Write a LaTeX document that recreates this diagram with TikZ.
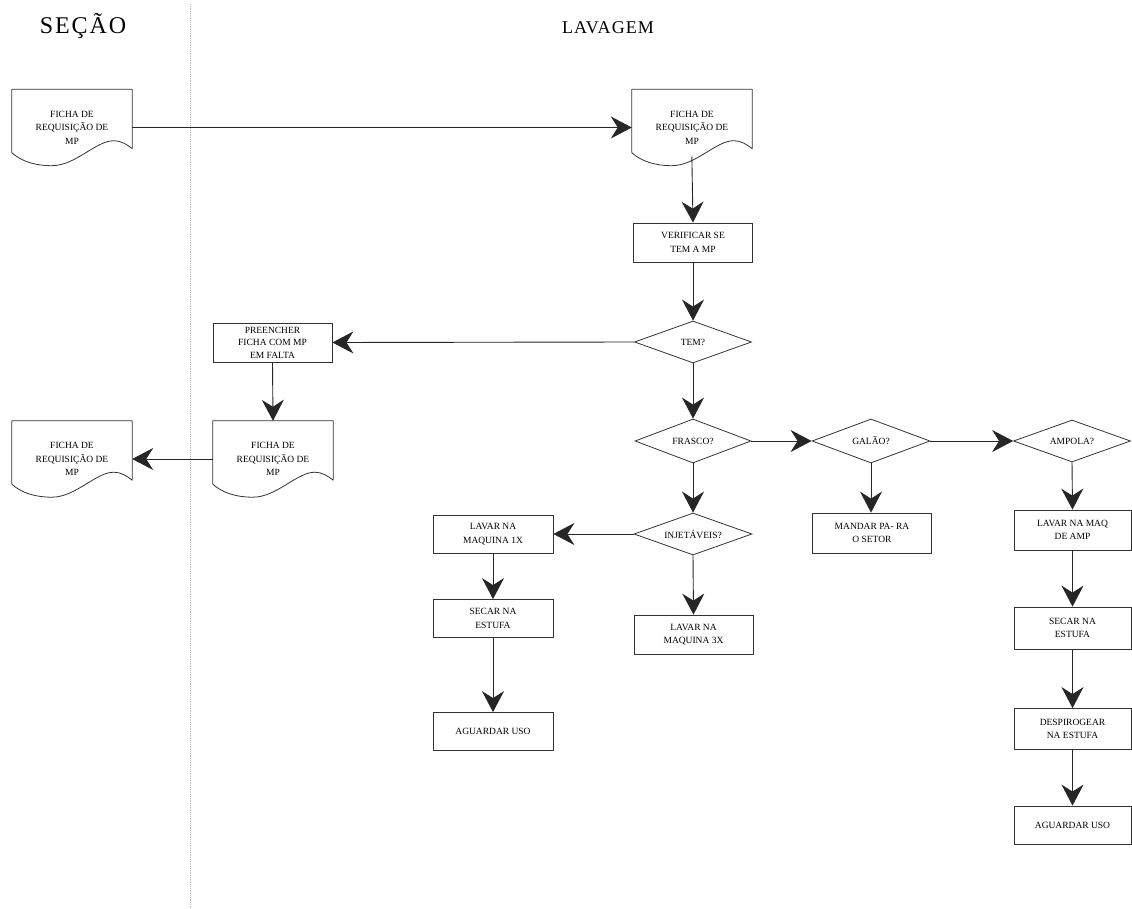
\documentclass[tikz,border=0pt]{standalone}
\usepackage{fontspec}
\setmainfont{Liberation Serif}
\newfontfamily\sectionfont[LetterSpace=8]{Liberation Serif}
\newfontfamily\laneheadfont[LetterSpace=6]{Liberation Serif}
\usetikzlibrary{shapes.geometric,arrows.meta,calc}

% outline of a flowchart "document" symbol around a named node
\newcommand\docoutline[1]{%
  \draw[docline] ($(#1.south west)+(0,-13)$) -- (#1.north west) -- (#1.north east)
    -- ($(#1.south east)+(0,-17)$)
    .. controls ($(#1.south east)+(-5,-21)$) and ($(#1.south east)+(-11,-25)$) .. ($(#1.south west)+(102,-25)$)
    .. controls ($(#1.south west)+(84,-25)$) and ($(#1.south west)+(64,0)$) .. ($(#1.south west)+(40,0)$)
    .. controls ($(#1.south west)+(24,0)$) and ($(#1.south west)+(10,-4)$) .. ($(#1.south west)+(0,-13)$);}

\begin{document}
\begin{tikzpicture}[x=1pt,y=-1pt,
  every node/.style={font=\fontsize{9.5}{13.5}\selectfont, align=center, inner sep=1pt, text=black},
  procbox/.style={draw=black!80, line width=0.8pt, minimum width=119pt, minimum height=39pt},
  decision/.style={diamond, draw=black!80, line width=0.8pt, minimum width=117pt,
    minimum height=42pt, aspect=2.8, inner sep=0pt},
  docbox/.style={minimum width=120pt, minimum height=76pt},
  docline/.style={draw=black!80, line width=0.8pt, line join=round},
  flow/.style={draw=black!85, line width=0.9pt, -{Stealth[length=21pt,width=22pt,inset=7pt]}},
  lanediv/.style={draw=gray!55, densely dotted, line width=0.8pt},
]
\fill[white] (0,0) rectangle (1132,909);
\useasboundingbox (0,0) rectangle (1132,909);

% lane headings and divider
\node[anchor=base, font=\sectionfont\fontsize{24}{26}\selectfont] (hsecao) at (83,34) {SEÇÃO};
\node[anchor=base, font=\laneheadfont\fontsize{18}{20}\selectfont] (hlavagem) at (608,34) {LAVAGEM};
\coordinate (divtop) at (190,4);
\coordinate (divbot) at (190,909);
\draw[lanediv] (divtop) -- (divbot);

% documents
\node[docbox] (doc1) at (72,127.5) {FICHA DE\\REQUISIÇÃO DE\\MP};
\node[docbox] (doc2) at (692,127.5) {FICHA DE\\REQUISIÇÃO DE\\MP};
\node[docbox] (doc3) at (273,459) {FICHA DE\\REQUISIÇÃO DE\\MP};
\node[docbox] (doc4) at (72,459) {FICHA DE\\REQUISIÇÃO DE\\MP};
\docoutline{doc1}
\docoutline{doc2}
\docoutline{doc3}
\docoutline{doc4}

% processes and decisions
\node[procbox] (verif) at (693,242.5) {VERIFICAR SE\\TEM A MP};
\node[decision] (tem) at (693,342) {TEM?};
\node[procbox, inner sep=0pt, font=\fontsize{9.5}{12.5}\selectfont] (preench) at (272.5,342.5) {PREENCHER\\FICHA COM MP\\EM FALTA};
\node[decision, minimum width=116pt, minimum height=44pt] (frasco) at (693,441) {FRASCO?};
\node[decision, minimum width=118pt, minimum height=44pt] (galao) at (871,441) {GALÃO?};
\node[decision] (ampola) at (1072,441) {AMPOLA?};
\node[decision, minimum width=118pt] (injet) at (693,534) {INJETÁVEIS?};

\node[procbox, minimum width=120pt, minimum height=38pt] (lavar1) at (493,534) {LAVAR NA\\MAQUINA 1X};
\node[procbox, minimum width=120pt, minimum height=38pt] (secar1) at (493,618.5) {SECAR NA\\ESTUFA};
\node[procbox, minimum width=120pt, minimum height=38pt] (aguard1) at (493,731.5) {AGUARDAR USO};
\node[procbox] (lavar3) at (693.5,634.5) {LAVAR NA\\MAQUINA 3X};
\node[procbox, minimum height=40pt] (mandar) at (872,533) {MANDAR PA- RA\\O SETOR};

\node[procbox, minimum width=117pt, minimum height=40pt] (lavamp) at (1072.5,530) {LAVAR NA MAQ\\DE AMP};
\node[procbox, minimum width=117pt, minimum height=42pt] (secar2) at (1072.5,628) {SECAR NA\\ESTUFA};
\node[procbox, minimum width=117pt, minimum height=41pt] (despiro) at (1072.5,729) {DESPIROGEAR\\NA ESTUFA};
\node[procbox, minimum width=117pt, minimum height=38pt] (aguard2) at (1072.5,825) {AGUARDAR USO};

% connectors
\draw[flow] (doc1.east) -- (doc2.west);
\draw[flow, shorten <=-9pt] (doc2.south) -- (verif.north);
\draw[flow] (verif.south) -- (tem.north);
\draw[flow] (tem.west) -- (preench.east);
\draw[flow] (preench.south) -- (doc3.north);
\draw[flow] (doc3.west) -- (doc4.east);
\draw[flow] (tem.south) -- (frasco.north);
\draw[flow] (frasco.east) -- (galao.west);
\draw[flow] (galao.east) -- (ampola.west);
\draw[flow] (galao.south) -- (galao.south |- mandar.north);
\draw[flow] (frasco.south) -- (injet.north);
\draw[flow] (injet.west) -- (lavar1.east);
\draw[flow] (injet.south) -- (lavar3.north);
\draw[flow] (lavar1.south) -- (secar1.north);
\draw[flow] (secar1.south) -- (aguard1.north);
\draw[flow] (ampola.south) -- (lavamp.north);
\draw[flow] (lavamp.south) -- (secar2.north);
\draw[flow] (secar2.south) -- (despiro.north);
\draw[flow] (despiro.south) -- (aguard2.north);
\end{tikzpicture}
\end{document}
